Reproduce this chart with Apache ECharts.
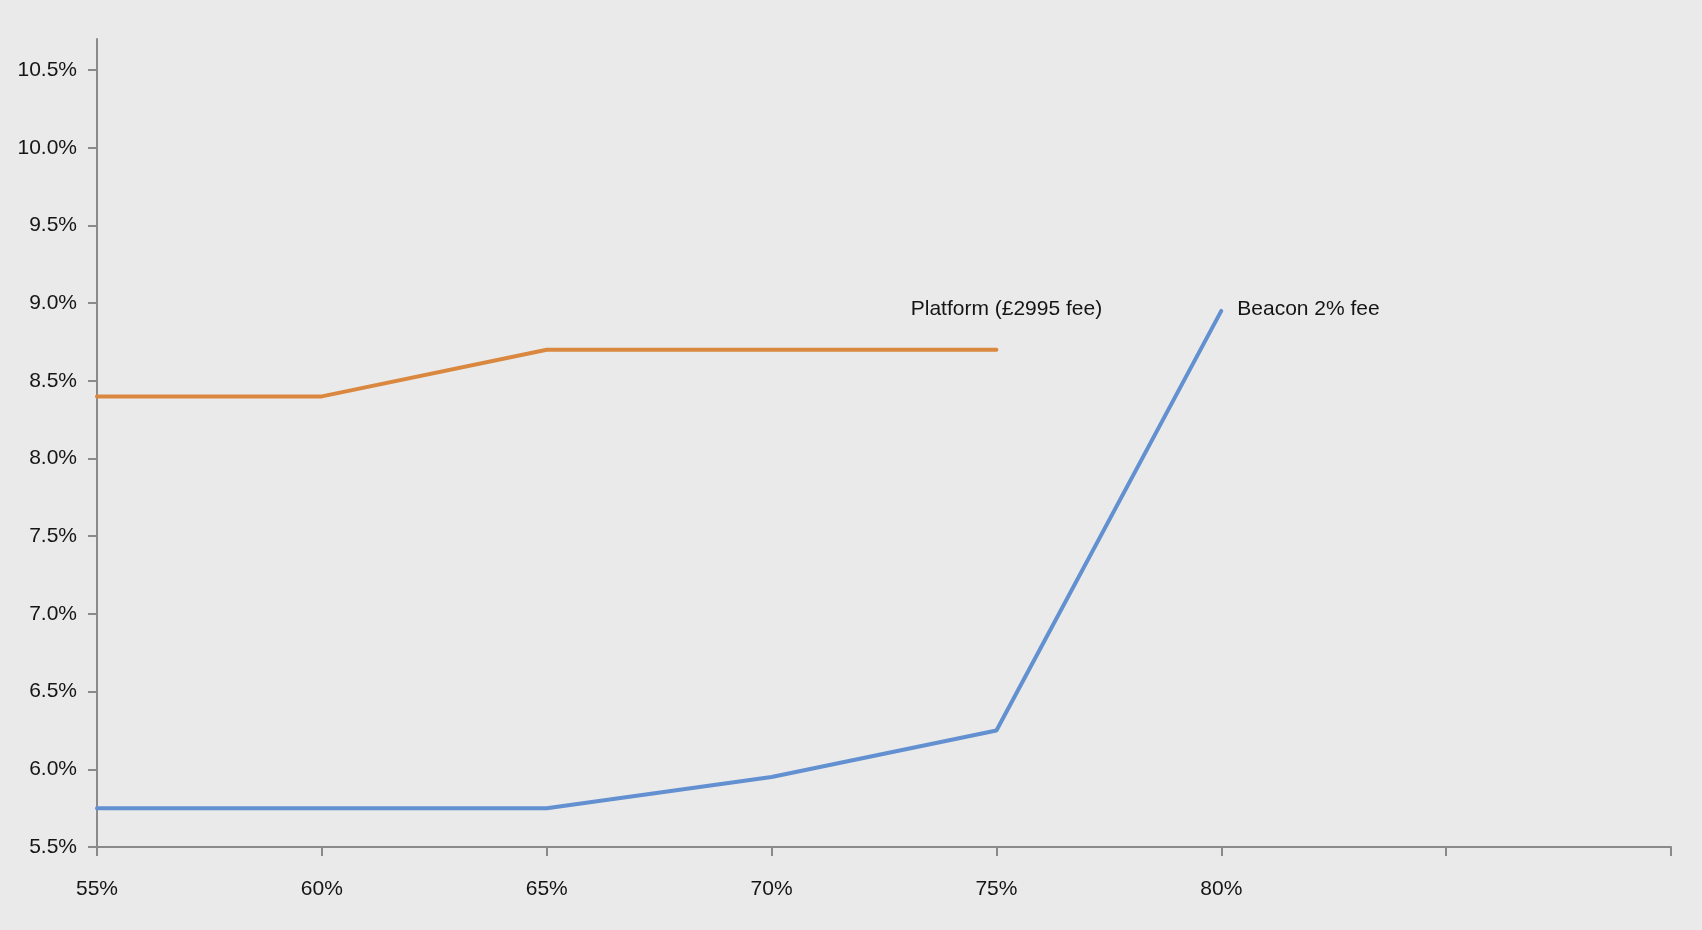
<!DOCTYPE html>
<html>
<head>
<meta charset="utf-8">
<title>Rate by LTV</title>
<script src="https://cdn.jsdelivr.net/npm/echarts@6/dist/echarts.min.js"></script>
<style>
  html, body { margin: 0; padding: 0; background: #eaeaea; }
  #chart { width: 1702px; height: 930px; }
</style>
</head>
<body>
<div id="chart"></div>
<script>
// Loan-to-value bands (last two slots are unlabelled axis positions)
const categories = ['55%', '60%', '65%', '70%', '75%', '80%', '', ''];

// Rates (%) for each product
const beaconRates = [5.75, 5.75, 5.75, 5.95, 6.25, 8.95];
const platformRates = [8.4, 8.4, 8.7, 8.7, 8.7];

// Labelled ticks on the rate axis
const yTicks = [5.5, 6.0, 6.5, 7.0, 7.5, 8.0, 8.5, 9.0, 9.5, 10.0, 10.5];

const beaconName = 'Beacon 2% fee';
const platformName = 'Platform (£2995 fee)';

const FONT = 'Liberation Sans';
const TEXT = '#151515';
const AXIS = '#8a8a8a';
const BLUE = '#6290d0';
const ORANGE = '#da883f';

// Put a name label on the final point of a series only
function withEndLabel(values, labelOpts) {
  return values.map((v, i) => i === values.length - 1
    ? { value: v, label: Object.assign({ show: true }, labelOpts) }
    : v);
}

const chart = echarts.init(document.getElementById('chart'), null, { renderer: 'canvas' });

chart.setOption({
  animation: false,
  backgroundColor: '#eaeaea',
  textStyle: { fontFamily: FONT },
  grid: { left: 97, right: 31, top: 39, bottom: 83, containLabel: false },
  xAxis: {
    type: 'category',
    data: categories,
    boundaryGap: false,
    axisLine: { lineStyle: { color: AXIS, width: 2 } },
    axisTick: { show: true, length: 9, interval: 0, lineStyle: { color: AXIS, width: 2 } },
    axisLabel: { interval: 0, margin: 32, color: TEXT, fontSize: 21, fontFamily: FONT },
    splitLine: { show: false }
  },
  yAxis: {
    type: 'value',
    min: 5.5,
    max: 10.7,
    interval: 0.5,
    axisLine: { show: true, lineStyle: { color: AXIS, width: 2 } },
    axisTick: { show: true, length: 9, customValues: yTicks, lineStyle: { color: AXIS, width: 2 } },
    axisLabel: {
      customValues: yTicks,
      margin: 20,
      color: TEXT,
      fontSize: 21,
      fontFamily: FONT,
      formatter: v => v.toFixed(1) + '%'
    },
    splitLine: { show: false }
  },
  series: [
    {
      name: beaconName,
      type: 'line',
      data: withEndLabel(beaconRates, {
        position: 'right', distance: 16, offset: [0, -2],
        formatter: beaconName, color: TEXT, fontSize: 21, fontFamily: FONT
      }),
      showSymbol: true,
      symbol: 'circle',
      symbolSize: 0,
      lineStyle: { color: BLUE, width: 4, cap: 'round' },
      itemStyle: { color: BLUE }
    },
    {
      name: platformName,
      type: 'line',
      data: withEndLabel(platformRates, {
        position: 'top', distance: 30, offset: [10, 0],
        formatter: platformName, color: TEXT, fontSize: 21, fontFamily: FONT
      }),
      showSymbol: true,
      symbol: 'circle',
      symbolSize: 0,
      lineStyle: { color: ORANGE, width: 4, cap: 'round' },
      itemStyle: { color: ORANGE }
    }
  ]
});
</script>
</body>
</html>
